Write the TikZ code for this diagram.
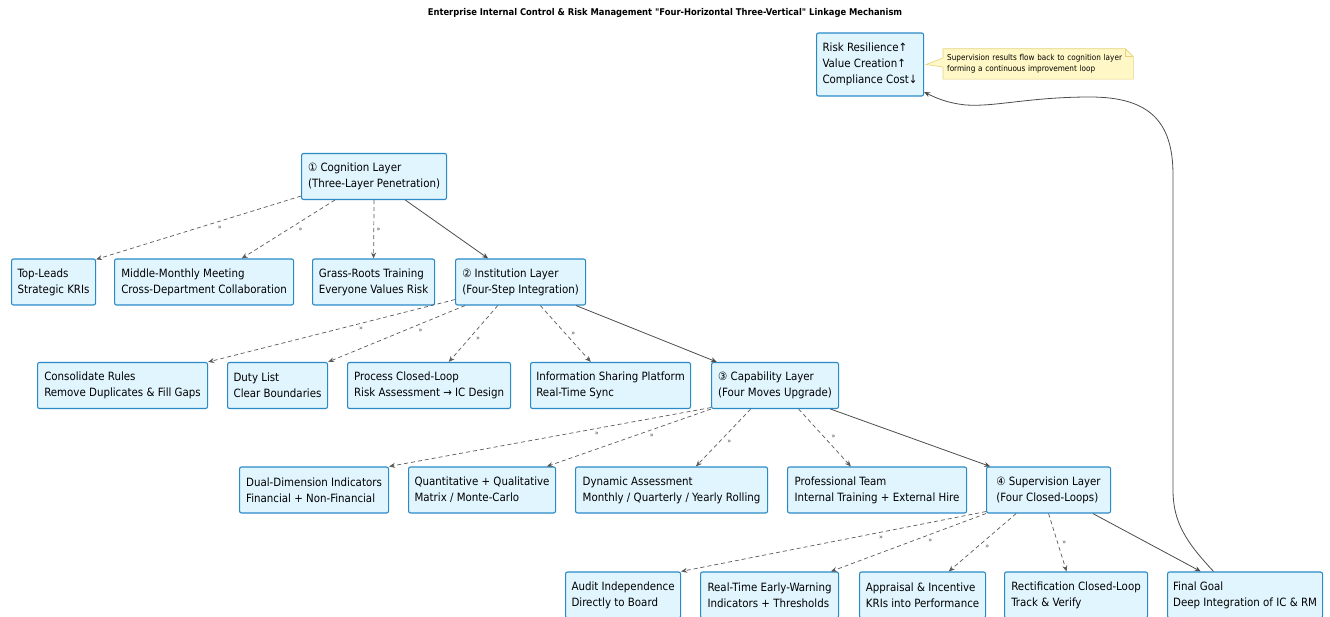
\documentclass[tikz,border=0pt]{standalone}
\usepackage{fontspec}
\setmainfont{DejaVu Sans Condensed}[Ligatures=TeXOff]
\usetikzlibrary{arrows.meta,backgrounds}
\definecolor{boxfill}{HTML}{E1F5FE}
\definecolor{boxline}{HTML}{2A8AC6}
\definecolor{notefill}{HTML}{FFF8C6}
\definecolor{noteline}{HTML}{E4D27E}
\definecolor{edgegray}{HTML}{5A5A5A}
\tikzset{
  blk/.style={draw=boxline, fill=boxfill, line width=1.1pt, rounded corners=2pt,
    anchor=west, align=left, inner xsep=5pt, minimum height=46pt,
    font=\fontsize{11.4}{16}\selectfont},
  sublink/.style={->, dash pattern=on 4pt off 3pt, draw=edgegray, line width=0.7pt},
  mainlink/.style={->, draw=edgegray!85!black, line width=0.8pt},
  lbl/.style={font=\fontsize{7}{7}\selectfont, text=edgegray!80!black, inner sep=2.5pt,
    anchor=north west, pos=.42}
}
\begin{document}
\begin{tikzpicture}[x=1pt, y=-1pt, >={Stealth[length=6pt,width=5pt,inset=2pt]}]
  \useasboundingbox (0,0) rectangle (1330,617);
  \node[font=\bfseries\fontsize{9.3}{11}\selectfont] (title) at (665,13)
    {Enterprise Internal Control \& Risk Management "Four-Horizontal Three-Vertical" Linkage Mechanism};

  % goal and note
  \node[blk, minimum width=107pt, minimum height=63pt] (res) at (816,64.5)
    {Risk Resilience↑\\Value Creation↑\\Compliance Cost↓};
  \node[anchor=west, align=left, text width=182pt, minimum height=30pt, inner xsep=4pt,
    font=\fontsize{8.1}{11}\selectfont] (note) at (943,64)
    {Supervision results flow back to cognition layer\\forming a continuous improvement loop};
  \begin{scope}[on background layer]
    \draw[fill=notefill, draw=noteline, line width=0.6pt]
      (note.south west) -- ([yshift=-3pt]note.west) -- ([xshift=2pt]res.east)
      -- ([yshift=6pt]note.west) -- (note.north west) -- ([xshift=-8pt]note.north east)
      -- ([yshift=-8pt]note.north east) -- (note.south east) -- cycle;
    \draw[draw=noteline, line width=0.6pt] ([xshift=-8pt]note.north east)
      -- ([xshift=-8pt,yshift=-8pt]note.north east) -- ([yshift=-8pt]note.north east);
  \end{scope}

  % layers
  \node[blk, minimum width=145pt] (cog) at (301,176.5) {① Cognition Layer\\(Three-Layer Penetration)};
  \node[blk, minimum width=84pt] (top) at (11,282) {Top-Leads\\Strategic KRIs};
  \node[blk, minimum width=179pt] (mid) at (114,282) {Middle-Monthly Meeting\\Cross-Department Collaboration};
  \node[blk, minimum width=122pt] (grass) at (312,282) {Grass-Roots Training\\Everyone Values Risk};
  \node[blk, minimum width=130pt] (inst) at (455,282) {② Institution Layer\\(Four-Step Integration)};

  \node[blk, minimum width=170pt] (cons) at (37,385.5) {Consolidate Rules\\Remove Duplicates \& Fill Gaps};
  \node[blk, minimum width=100pt] (duty) at (227,385.5) {Duty List\\Clear Boundaries};
  \node[blk, minimum width=163pt] (proc) at (347,385.5) {Process Closed-Loop\\Risk Assessment → IC Design};
  \node[blk, minimum width=160pt] (info) at (530,385.5) {Information Sharing Platform\\Real-Time Sync};
  \node[blk, minimum width=127pt] (cap) at (711,385.5) {③ Capability Layer\\(Four Moves Upgrade)};

  \node[blk, minimum width=149pt] (dual) at (239,490) {Dual-Dimension Indicators\\Financial + Non-Financial};
  \node[blk, minimum width=147pt] (quant) at (408,490) {Quantitative + Qualitative\\Matrix / Monte-Carlo};
  \node[blk, minimum width=192pt] (dyn) at (575,490) {Dynamic Assessment\\Monthly / Quarterly / Yearly Rolling};
  \node[blk, minimum width=179pt] (prof) at (787,490) {Professional Team\\Internal Training + External Hire};
  \node[blk, minimum width=124pt] (sup) at (986,490) {④ Supervision Layer\\(Four Closed-Loops)};

  \node[blk, minimum width=115pt] (audit) at (565,595) {Audit Independence\\Directly to Board};
  \node[blk, minimum width=138pt] (rt) at (700,595) {Real-Time Early-Warning\\Indicators + Thresholds};
  \node[blk, minimum width=126pt] (appr) at (859,595) {Appraisal \& Incentive\\KRIs into Performance};
  \node[blk, minimum width=143pt] (rect) at (1004,595) {Rectification Closed-Loop\\Track \& Verify};
  \node[blk, minimum width=155pt] (final) at (1167,595) {Final Goal\\Deep Integration of IC \& RM};

  % links
  \draw[sublink] (cog.195) -- node[lbl] {»} (top.28);
  \draw[sublink] (cog.211) -- node[lbl] {»} (mid.32);
  \draw[sublink] (cog.south) -- node[lbl, anchor=west, pos=.5] {»} (grass.north);
  \draw[mainlink] (cog.323) -- (inst.144);

  \draw[sublink] (inst.195) -- node[lbl, pos=.4] {»} (cons.north east);
  \draw[sublink] (inst.203) -- node[lbl, pos=.36] {»} (duty.north east);
  \draw[sublink] (inst.226) -- node[lbl, pos=.5] {»} (proc.50);
  \draw[sublink] (inst.310) -- node[lbl, anchor=west, pos=.5, xshift=3pt] {»} (info.130);
  \draw[mainlink] (inst.337) -- (cap.158);

  \draw[sublink] (cap.199) -- node[lbl, pos=.37] {»} (dual.north east);
  \draw[sublink] (cap.south west) -- node[lbl, pos=.39] {»} (quant.20);
  \draw[sublink] (cap.224) -- node[lbl, pos=.48] {»} (dyn.44);
  \draw[sublink] (cap.315) -- node[lbl, anchor=west, pos=.48, xshift=5pt] {»} (prof.138);
  \draw[mainlink] (cap.337) -- (sup.158);

  \draw[sublink] (sup.199) -- node[lbl, pos=.36] {»} (audit.north east);
  \draw[sublink] (sup.south west) -- node[lbl, pos=.39] {»} (rt.21);
  \draw[sublink] (sup.216) -- node[lbl, pos=.5] {»} (appr.42);
  \draw[sublink] (sup.south) -- node[lbl, anchor=west, pos=.5, xshift=2pt] {»} (rect.112);
  \draw[mainlink] (sup.332) -- (final.152);

  % feedback loop
  \draw[mainlink] ([xshift=-31.5pt]final.north) .. controls (1186,542) and (1173,522) .. (1173,490)
    -- (1173,175) .. controls (1173,122) and (1150,97) .. (1090,97)
    .. controls (1030,97) and (995,107) .. (966,105)
    .. controls (946,103) and (934,97) .. (res.333);
\end{tikzpicture}
\end{document}
